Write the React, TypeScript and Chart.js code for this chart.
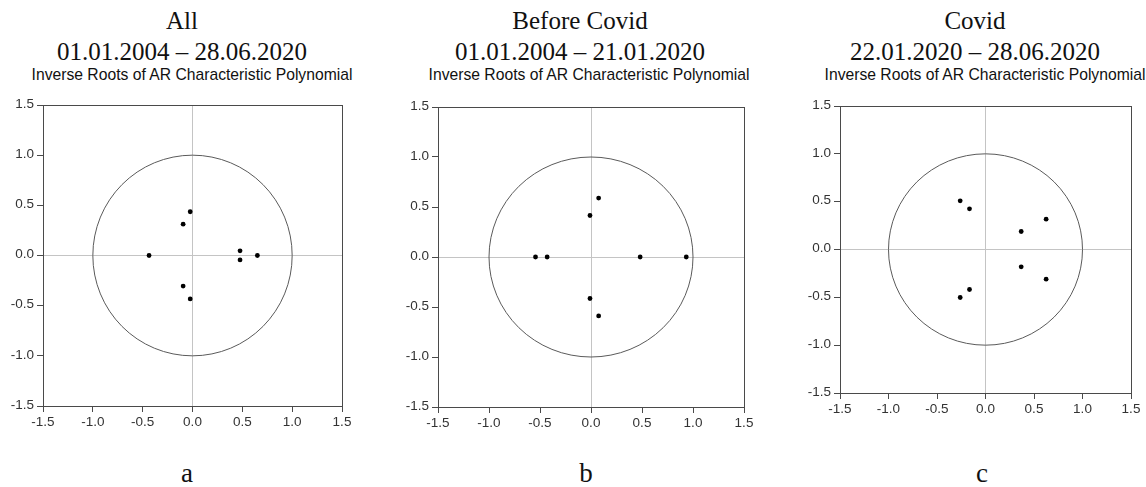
import React, { useEffect, useRef } from "react";
import { Chart, registerables } from "chart.js";

Chart.register(...registerables);

// ---------- data ----------
const axisMin = -1.5;
const axisMax = 1.5;
const axisStep = 0.5;

// Panel a: All 01.01.2004 – 28.06.2020
const allReal = [-0.023, -0.023, -0.094, -0.094, -0.436, 0.477, 0.477, 0.651];
const allImag = [0.436, -0.433, 0.312, -0.305, 0.0, 0.047, -0.044, 0.0];

// Panel b: Before Covid 01.01.2004 – 21.01.2020
const beforeReal = [0.075, 0.075, -0.01, -0.01, -0.544, -0.43, 0.482, 0.934];
const beforeImag = [0.589, -0.589, 0.415, -0.415, 0.0, 0.0, 0.0, 0.0];

// Panel c: Covid 22.01.2020 – 28.06.2020
const covidReal = [-0.261, -0.261, -0.165, -0.165, 0.625, 0.625, 0.368, 0.368];
const covidImag = [0.509, -0.502, 0.425, -0.418, 0.317, -0.31, 0.188, -0.181];

const panelTitles = ["All", "Before Covid", "Covid"];
const panelDates = [
  "01.01.2004 – 28.06.2020",
  "01.01.2004 – 21.01.2020",
  "22.01.2020 – 28.06.2020",
];
const panelSubtitle = "Inverse Roots of AR Characteristic Polynomial";
const panelLetters = ["a", "b", "c"];

// ---------- layout ----------
type Area = { left: number; top: number; right: number; bottom: number };
const areas: Area[] = [
  { left: 43, top: 105, right: 342, bottom: 406 },
  { left: 438, top: 107, right: 744, bottom: 407 },
  { left: 840, top: 106, right: 1131, bottom: 393 },
];
const titleCenters = [182, 580, 975];
const subtitleCenters = [192, 589, 985];
const letterCenters = [187, 586, 982];

const PAD_L = 50;
const PAD_T = 15;
const PAD_R = 15;
const PAD_B = 35;

const unitCirclePlugin = {
  id: "unitCircle",
  beforeDatasetsDraw(chart: any) {
    const { ctx, chartArea, scales } = chart;
    const xs = scales.x;
    const ys = scales.y;
    const cx = xs.getPixelForValue(0);
    const cy = ys.getPixelForValue(0);
    const rx = Math.abs(xs.getPixelForValue(1) - cx);
    const ry = Math.abs(ys.getPixelForValue(1) - cy);
    ctx.save();
    ctx.strokeStyle = "#5a5a5a";
    ctx.lineWidth = 1;
    ctx.beginPath();
    ctx.ellipse(cx, cy, rx, ry, 0, 0, Math.PI * 2);
    ctx.stroke();
    ctx.strokeStyle = "#4a4a4a";
    ctx.strokeRect(
      Math.round(chartArea.left) + 0.5,
      Math.round(chartArea.top) + 0.5,
      Math.round(chartArea.right - chartArea.left),
      Math.round(chartArea.bottom - chartArea.top)
    );
    ctx.restore();
  },
};

function Panel({ area, re, im }: { area: Area; re: number[]; im: number[] }) {
  const ref = useRef<HTMLCanvasElement | null>(null);
  const w = area.right - area.left + PAD_L + PAD_R;
  const h = area.bottom - area.top + PAD_T + PAD_B;

  useEffect(() => {
    if (!ref.current) return;
    const points = re.map((x, i) => ({ x, y: im[i] }));
    const tickFont = { family: "'Liberation Sans', Arial, sans-serif", size: 13.5 };
    const gridCfg = {
      color: (c: any) => (c.tick && Math.abs(c.tick.value) < 1e-9 ? "#c4c4c4" : "rgba(0,0,0,0)"),
      tickColor: "#4a4a4a",
      tickLength: 6,
      drawTicks: true,
      lineWidth: 1,
    };
    const chart = new Chart(ref.current, {
      type: "scatter",
      data: {
        datasets: [
          {
            data: points,
            backgroundColor: "#000000",
            borderColor: "#000000",
            borderWidth: 0,
            pointRadius: 2.4,
          },
        ],
      },
      options: {
        animation: false,
        responsive: false,
        maintainAspectRatio: false,
        layout: { padding: { top: PAD_T, right: PAD_R, left: 0, bottom: 0 } },
        plugins: { legend: { display: false }, tooltip: { enabled: false }, title: { display: false } },
        scales: {
          x: {
            type: "linear",
            min: axisMin,
            max: axisMax,
            border: { display: false },
            grid: gridCfg as any,
            ticks: {
              stepSize: axisStep,
              color: "#333333",
              font: tickFont,
              padding: 2,
              maxRotation: 0,
              autoSkip: false,
              callback: (v: any) => Number(v).toFixed(1),
            },
            afterFit: (s: any) => {
              s.height = PAD_B;
            },
          },
          y: {
            type: "linear",
            min: axisMin,
            max: axisMax,
            border: { display: false },
            grid: gridCfg as any,
            ticks: {
              stepSize: axisStep,
              color: "#333333",
              font: tickFont,
              padding: 3,
              labelOffset: -1,
              autoSkip: false,
              callback: (v: any) => Number(v).toFixed(1),
            },
            afterFit: (s: any) => {
              s.width = PAD_L;
            },
          },
        },
      },
      plugins: [unitCirclePlugin],
    } as any);
    return () => chart.destroy();
  }, [re, im]);

  return (
    <canvas
      ref={ref}
      width={w}
      height={h}
      style={{
        position: "absolute",
        left: area.left - PAD_L,
        top: area.top - PAD_T,
        width: w,
        height: h,
      }}
    />
  );
}

const serif = "'Liberation Serif', 'Times New Roman', serif";
const sans = "'Liberation Sans', Arial, sans-serif";

function centered(x: number, top: number, font: string, size: number): React.CSSProperties {
  return {
    position: "absolute",
    left: x,
    top,
    transform: "translateX(-50%)",
    whiteSpace: "nowrap",
    fontFamily: font,
    fontSize: size,
    lineHeight: `${size}px`,
    color: "#111",
  };
}

export default function App() {
  const data = [
    { re: allReal, im: allImag },
    { re: beforeReal, im: beforeImag },
    { re: covidReal, im: covidImag },
  ];
  return (
    <div
      style={{
        position: "fixed",
        left: 0,
        top: 0,
        width: 1146,
        height: 487,
        background: "#ffffff",
        overflow: "hidden",
      }}
    >
      {data.map((d, i) => (
        <React.Fragment key={i}>
          <div style={centered(titleCenters[i], 7.5, serif, 25)}>{panelTitles[i]}</div>
          <div style={centered(titleCenters[i], 39, serif, 25)}>{panelDates[i]}</div>
          <div style={centered(subtitleCenters[i], 66.5, sans, 15.7)}>{panelSubtitle}</div>
          <Panel area={areas[i]} re={d.re} im={d.im} />
          <div style={centered(letterCenters[i], 460, serif, 27)}>{panelLetters[i]}</div>
        </React.Fragment>
      ))}
    </div>
  );
}
